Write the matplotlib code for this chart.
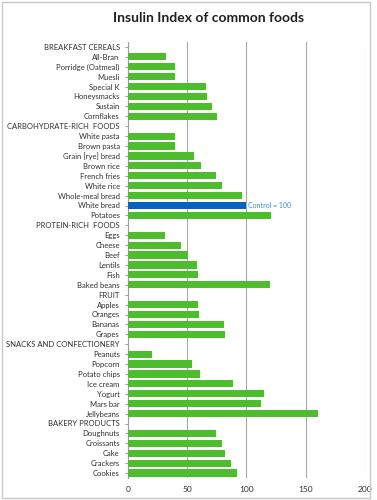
import matplotlib.pyplot as plt
from matplotlib.patches import Rectangle

# Kategorien und Insulin-Index-Werte (Weissbrot = 100)
labels = ['BREAKFAST CEREALS', 'All-Bran', 'Porridge (Oatmeal)', 'Muesli', 'Special K',
          'Honeysmacks', 'Sustain', 'Cornflakes',
          'CARBOHYDRATE-RICH  FOODS', 'White pasta', 'Brown pasta', 'Grain [rye] bread',
          'Brown rice', 'French fries', 'White rice', 'Whole-meal bread', 'White bread', 'Potatoes',
          'PROTEIN-RICH  FOODS', 'Eggs', 'Cheese', 'Beef', 'Lentils', 'Fish', 'Baked beans',
          'FRUIT', 'Apples', 'Oranges', 'Bananas', 'Grapes',
          'SNACKS AND CONFECTIONERY', 'Peanuts', 'Popcorn', 'Potato chips', 'Ice cream',
          'Yogurt', 'Mars bar', 'Jellybeans',
          'BAKERY PRODUCTS', 'Doughnuts', 'Croissants', 'Cake', 'Crackers', 'Cookies']
values = [0, 32, 40, 40, 66, 67, 71, 75,
          0, 40, 40, 56, 62, 74, 79, 96, 100, 121,
          0, 31, 45, 51, 58, 59, 120,
          0, 59, 60, 81, 82,
          0, 20, 54, 61, 89, 115, 112, 160,
          0, 74, 79, 82, 87, 92]
control = 'White bread'

green = '#4dbd2d'
blue = '#0563c1'

plt.rcParams['font.family'] = ['Lato', 'DejaVu Sans']

fig = plt.figure(figsize=(3.77, 5.0), dpi=100)
fig.patches.append(Rectangle((0.004, 0.004), 0.978, 0.992, transform=fig.transFigure,
                             fill=False, edgecolor='#c8c8c8', linewidth=1))
ax = fig.add_axes([0.3395, 0.044, 0.6285, 0.872])

ypos = list(range(len(labels)))
colors = [blue if l == control else green for l in labels]
ax.barh(ypos, values, height=0.72, color=colors, zorder=3)

# Beschriftung am Kontrollwert
i = labels.index(control)
ax.text(values[i] + 1, i, 'Control = 100', color='#3a8fd4', fontsize=5,
        va='center', ha='left', zorder=4)

ax.set_xlim(0, 200)
ax.set_ylim(len(labels) - 0.5, -0.5)
ax.set_xticks([0, 50, 100, 150, 200])
ax.set_yticks(ypos)
ax.set_yticklabels(labels)
ax.tick_params(axis='y', labelsize=5.5, length=2, color='#a0a0a0', pad=4, labelcolor='#303030')
ax.tick_params(axis='x', labelsize=6, length=0, pad=6, labelcolor='#303030')
ax.grid(axis='x', color='#a8a8a8', linewidth=0.8, zorder=0)
for s in ['top', 'right', 'bottom']:
    ax.spines[s].set_visible(False)
ax.spines['left'].set_color('#a0a0a0')

fig.text(0.554, 0.965, 'Insulin Index of common foods', fontsize=10, fontweight='bold',
         ha='center', va='center', color='#202020')

fig.savefig('out.png', dpi=100)
